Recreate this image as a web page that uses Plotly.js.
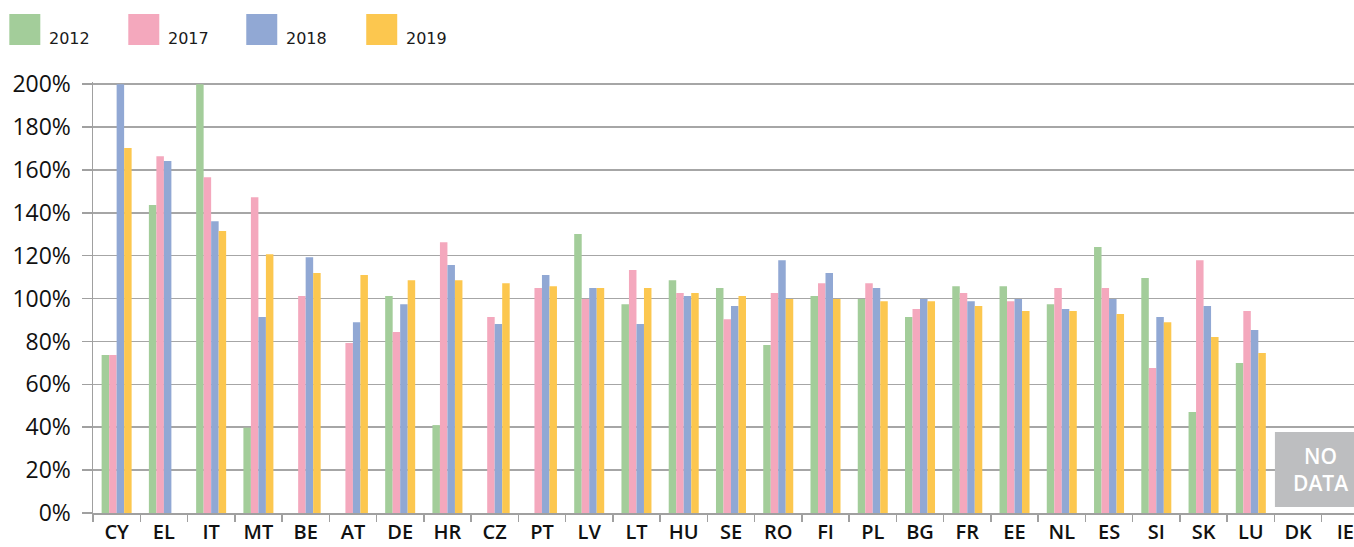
<!DOCTYPE html>
<html>
<head>
<meta charset="utf-8">
<script src="https://cdn.plot.ly/plotly-3.0.1.min.js"></script>
<style>
html,body{margin:0;padding:0;overflow:hidden;background:#fff;}
#chart{width:1354px;height:547px;}
</style>
</head>
<body>
<div id="chart"></div>
<script>
const categories = ['CY','EL','IT','MT','BE','AT','DE','HR','CZ','PT','LV','LT','HU','SE','RO','FI','PL','BG','FR','EE','NL','ES','SI','SK','LU','DK','IE'];
const seriesNames = ['2012','2017','2018','2019'];
const v2012 = [73.7,143.6,200,39.8,null,null,101.2,41.0,null,null,130.1,97.4,108.6,104.9,78.3,101.2,99.8,91.4,105.8,105.8,97.4,124.0,109.6,47.1,69.9,null,null];
const v2017 = [73.7,166.4,156.6,147.3,101.2,79.3,84.4,126.3,91.4,104.9,99.8,113.3,102.6,90.4,102.6,107.2,107.2,95.1,102.6,98.8,104.9,104.9,67.6,117.9,94.2,null,null];
const v2018 = [200,164.1,136.1,91.4,119.3,89.0,97.4,115.6,88.1,111.0,104.9,88.1,101.2,96.5,117.9,111.9,104.9,99.8,98.8,99.8,95.1,99.8,91.4,96.5,85.3,null,null];
const v2019 = [170.2,null,131.5,120.7,111.9,111.0,108.6,108.6,107.2,105.8,104.9,104.9,102.6,101.2,99.8,99.8,98.8,98.8,96.5,94.2,94.2,92.8,89.0,82.1,74.6,null,null];
const noDataLabel = 'NO<br>DATA';

const colors = ['#A3CD9A','#F4A8BD','#91A8D4','#FCC74F'];
const values = [v2012, v2017, v2018, v2019];

const W = 1354, H = 547;
const mL = 92.7, mR = 0, mT = 82, mB = 34;
const plotW = W - mL - mR, plotH = H - mT - mB;
const px2x = p => (p - mL) / plotW;
const py2y = p => (H - mB - p) / plotH;

const traces = values.map((v, i) => ({
  type: 'bar',
  x: categories,
  y: v,
  name: seriesNames[i],
  marker: {color: colors[i], line: {width: 0}},
  showlegend: false,
  hoverinfo: 'skip'
}));

const legendSquareX = [9, 128, 246, 366];
const shapes = [];
const annotations = [];
seriesNames.forEach((n, i) => {
  shapes.push({
    type: 'rect', xref: 'paper', yref: 'paper',
    x0: px2x(legendSquareX[i]), x1: px2x(legendSquareX[i] + 31),
    y0: py2y(45), y1: py2y(14),
    fillcolor: colors[i], line: {width: 0}, layer: 'above'
  });
  annotations.push({
    xref: 'paper', yref: 'paper',
    x: px2x(legendSquareX[i] + 38), y: py2y(38.5),
    xanchor: 'left', yanchor: 'middle',
    text: n, showarrow: false,
    font: {family: 'DejaVu Sans', size: 16, color: '#1a1a1a'}
  });
});

// NO DATA box
shapes.push({
  type: 'rect', xref: 'x', yref: 'y',
  x0: 24.51, x1: 27, y0: 2.8, y1: 37.8,
  fillcolor: '#BDBEC0', line: {width: 0}, layer: 'above'
});
annotations.push({
  xref: 'x', yref: 'y', x: 25.48, y: 20.3,
  xanchor: 'center', yanchor: 'middle',
  text: noDataLabel, showarrow: false, align: 'center',
  font: {family: 'Open Sans', size: 21, weight: 600, color: '#ffffff'}
});

const layout = {
  width: W, height: H,
  margin: {l: mL, r: mR, t: mT, b: mB, pad: 0},
  paper_bgcolor: '#fff', plot_bgcolor: '#fff',
  barmode: 'group', bargap: 0.365, bargroupgap: 0,
  font: {family: 'Open Sans', color: '#111'},
  xaxis: {
    type: 'category',
    range: [-0.5, (W - mL) / ((1321.7 - 92.7) / 26) - 0.5],
    showgrid: false, zeroline: false,
    showline: true, linecolor: '#A0A0A0', linewidth: 1.5,
    ticks: 'outside', tickson: 'boundaries', ticklen: 7, tickcolor: '#A0A0A0', tickwidth: 1.5,
    tickfont: {family: 'Open Sans', size: 20, weight: 600, color: '#111'},
    ticklabelstandoff: 0,
    fixedrange: true
  },
  yaxis: {
    range: [0, 201],
    tickmode: 'linear', tick0: 0, dtick: 20,
    ticksuffix: '%',
    showgrid: true, gridcolor: '#A6A6A6', gridwidth: 1.5,
    zeroline: false,
    showline: true, linecolor: '#A0A0A0', linewidth: 1.5,
    ticks: 'outside', ticklen: 10, tickcolor: '#A0A0A0', tickwidth: 1.5,
    tickfont: {family: 'Open Sans', size: 23, weight: 500, color: '#111'},
    ticklabelstandoff: 6,
    fixedrange: true
  },
  shapes: shapes,
  annotations: annotations
};

Plotly.newPlot('chart', traces, layout, {staticPlot: true, displayModeBar: false});
</script>
</body>
</html>
